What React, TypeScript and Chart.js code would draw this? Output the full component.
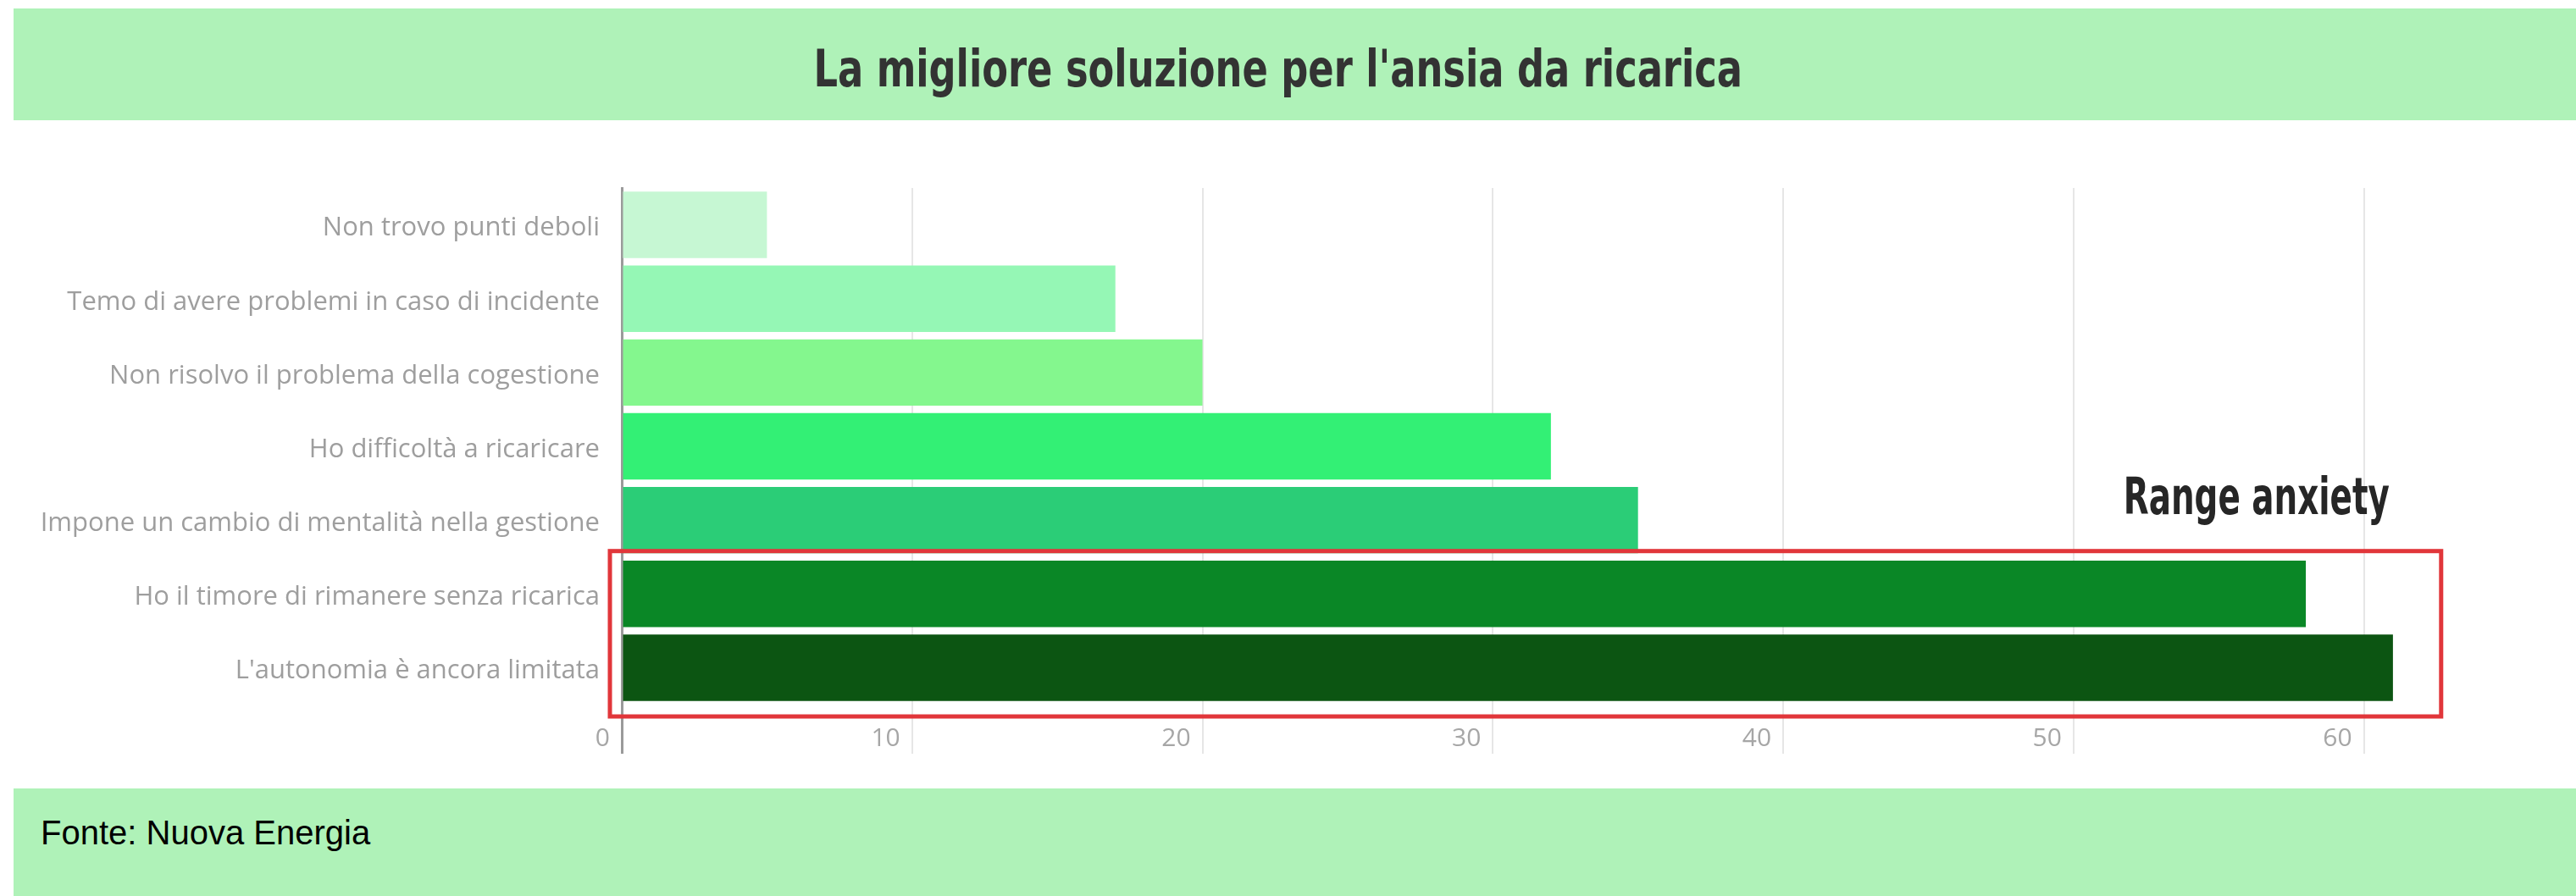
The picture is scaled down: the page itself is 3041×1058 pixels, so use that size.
import React, { useEffect, useRef } from "react";
import { Chart, registerables } from "chart.js";

Chart.register(...registerables);

const TITLE = "La migliore soluzione per l'ansia da ricarica";
const SOURCE = "Fonte: Nuova Energia";
const ANNOTATION = "Range anxiety";

const categories = [
  "Non trovo punti deboli",
  "Temo di avere problemi in caso di incidente",
  "Non risolvo il problema della cogestione",
  "Ho difficoltà a ricaricare",
  "Impone un cambio di mentalità nella gestione",
  "Ho il timore di rimanere senza ricarica",
  "L'autonomia è ancora limitata",
];
const values = [5, 17, 20, 32, 35, 58, 61];
const barColors = ["#c6f7d3", "#95f7b5", "#84f78e", "#33f075", "#2bcd77", "#0a8726", "#0c5512"];
const xTicks = [0, 10, 20, 30, 40, 50, 60];
const highlighted = [5, 6];

const BAND = "#aff2b8";
const LABEL_FONT = "'Open Sans', 'Noto Sans', sans-serif";
const COND_FONT = "'Liberation Sans Narrow', 'DejaVu Sans Condensed', 'Roboto Condensed', 'Liberation Sans', sans-serif";

const highlightPlugin = {
  id: "highlight",
  afterDatasetsDraw(chart: any) {
    const { ctx, scales } = chart;
    const x = scales.x;
    const y = scales.y;
    const first = highlighted[0];
    const last = highlighted[highlighted.length - 1];
    const half = (y.getPixelForValue(1) - y.getPixelForValue(0)) / 2;
    const left = x.getPixelForValue(0) - 14;
    const right = x.getPixelForValue(62.66);
    const top = y.getPixelForValue(first) - half - 7;
    const bottom = y.getPixelForValue(last) + half + 14;
    ctx.save();
    ctx.strokeStyle = "#e1363a";
    ctx.lineWidth = 5;
    ctx.strokeRect(left, top, right - left, bottom - top);
    ctx.fillStyle = "#262626";
    ctx.font = `bold 60px ${COND_FONT}`;
    ctx.textAlign = "center";
    ctx.textBaseline = "alphabetic";
    ctx.translate(x.getPixelForValue(56.3), top - 44);
    ctx.scale(0.72, 1);
    ctx.fillText(ANNOTATION, 0, 0);
    ctx.restore();
  },
};

function BarChart() {
  const ref = useRef<HTMLCanvasElement>(null);
  useEffect(() => {
    if (!ref.current) return;
    const chart = new Chart(ref.current, {
      type: "bar",
      data: {
        labels: categories,
        datasets: [
          {
            data: values,
            backgroundColor: barColors,
            borderWidth: 0,
            barPercentage: 0.9,
            categoryPercentage: 1.0,
          },
        ],
      },
      options: {
        indexAxis: "y",
        animation: false,
        responsive: false,
        maintainAspectRatio: false,
        layout: { padding: { top: 72, right: 79, left: 0, bottom: 0 } },
        plugins: {
          legend: { display: false },
          tooltip: { enabled: false },
          title: { display: false },
        },
        scales: {
          x: {
            type: "linear",
            min: 0,
            max: 65,
            afterFit: (s: any) => {
              s.height = 78;
            },
            afterBuildTicks: (s: any) => {
              s.ticks = xTicks.map((v) => ({ value: v }));
            },
            ticks: {
              stepSize: 10,
              includeBounds: false,
              align: "end",
              labelOffset: -14,
              padding: -36,
              color: "#a6a6a6",
              font: { family: LABEL_FONT, size: 30 },
            },
            grid: {
              color: (c: any) => (c.tick && c.tick.value === 0 ? "#9a9a9a" : "#e6e6e6"),
              lineWidth: (c: any) => (c.tick && c.tick.value === 0 ? 3 : 2),
              tickLength: 58,
              drawTicks: true,
            },
            border: { display: false },
          },
          y: {
            z: 1,
            afterFit: (s: any) => {
              s.width = 734;
            },
            ticks: {
              padding: 26,
              labelOffset: 4,
              color: "#9e9e9e",
              font: { family: LABEL_FONT, size: 31 },
            },
            grid: { display: false, drawTicks: false, tickLength: 0 },
            border: { display: true, color: "#9a9a9a", width: 3 },
          },
        },
      },
      plugins: [highlightPlugin],
    } as any);
    return () => chart.destroy();
  }, []);
  return (
    <canvas
      ref={ref}
      width={3041}
      height={760}
      style={{ position: "absolute", left: 0, top: 150, width: 3041, height: 760 }}
    />
  );
}

export default function App() {
  return (
    <div
      style={{
        position: "fixed",
        left: 0,
        top: 0,
        width: 3041,
        height: 1058,
        overflow: "hidden",
        background: "#ffffff",
      }}
    >
      <div
        style={{
          position: "absolute",
          left: 16,
          top: 10,
          width: 3025,
          height: 132,
          background: BAND,
          display: "flex",
          alignItems: "center",
          justifyContent: "center",
        }}
      >
        <span
          style={{
            display: "inline-block",
            fontFamily: COND_FONT,
            fontWeight: "bold",
            fontSize: 61,
            color: "#333333",
            whiteSpace: "nowrap",
            marginLeft: -40,
            marginTop: 8,
            transform: "scaleX(0.815)",
            transformOrigin: "center",
          }}
        >
          {TITLE}
        </span>
      </div>
      <BarChart />
      <div
        style={{
          position: "absolute",
          left: 16,
          top: 931,
          width: 3025,
          height: 127,
          background: BAND,
        }}
      >
        <span
          style={{
            position: "absolute",
            left: 32,
            top: 30,
            fontFamily: "'Liberation Sans', Arial, sans-serif",
            fontSize: 40,
            color: "#000000",
            whiteSpace: "nowrap",
          }}
        >
          {SOURCE}
        </span>
      </div>
    </div>
  );
}
